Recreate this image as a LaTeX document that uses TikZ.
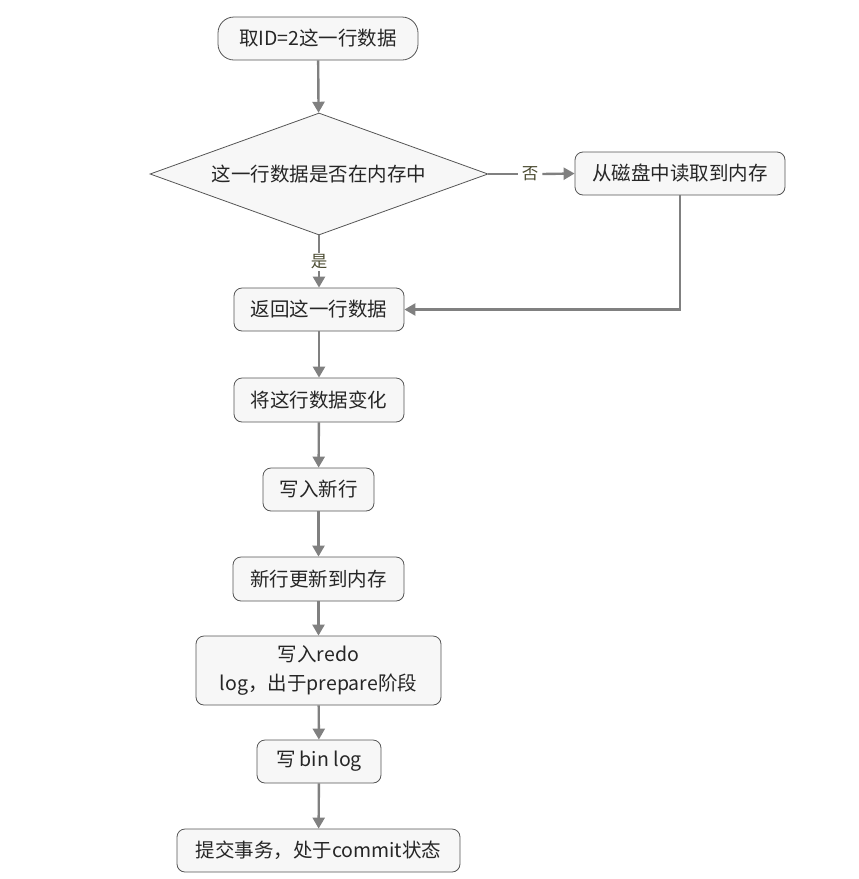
\documentclass[tikz,border=0pt]{standalone}
\usepackage{fontspec}
\setmainfont{Noto Sans CJK SC}
\usetikzlibrary{shapes.geometric,arrows.meta}
\definecolor{boxfill}{HTML}{F7F7F7}
\definecolor{boxline}{HTML}{555555}
\definecolor{arrowc}{HTML}{808080}
\definecolor{labc}{HTML}{4A4A30}
\begin{document}
\begin{tikzpicture}[x=1pt,y=-1pt,
  box/.style={draw=boxline,fill=boxfill,line width=0.8pt,rounded corners=8pt,inner sep=0pt,align=center,font=\fontsize{19.5}{29}\selectfont,text=black!85},
  conn/.style={draw=arrowc,line width=2.4pt,-{Triangle[length=11pt,width=12pt]}},
  plainconn/.style={draw=arrowc,line width=2.4pt},
  lab/.style={font=\fontsize{16.5}{18}\selectfont,text=labc,inner sep=4pt}]
\useasboundingbox (0,0) rectangle (859,879);
\node[box,rounded corners=16pt,minimum width=200pt,minimum height=43pt] (start) at (318,38.5) {取ID=2这一行数据};
\node[diamond,draw=boxline,fill=boxfill,line width=0.8pt,aspect=2.77,minimum width=338pt,minimum height=122pt,inner sep=0pt,font=\fontsize{19.5}{24}\selectfont,text=black!85] (dec) at (319,174) {这一行数据是否在内存中};
\node[box,minimum width=210pt,minimum height=43pt] (disk) at (680,173.5) {从磁盘中读取到内存};
\node[box,minimum width=170pt,minimum height=43pt] (ret) at (319,309.5) {返回这一行数据};
\node[box,minimum width=170pt,minimum height=44pt] (chg) at (319,400) {将这行数据变化};
\node[box,minimum width=111pt,minimum height=43pt] (wr) at (318.5,489.5) {写入新行};
\node[box,minimum width=171pt,minimum height=44pt] (upd) at (318.5,579) {新行更新到内存};
\node[box,minimum width=245pt,minimum height=69pt] (redo) at (318.5,670.5) {写入redo\\log，出于prepare阶段};
\node[box,minimum width=124pt,minimum height=43pt] (bin) at (319,761.5) {写 bin log};
\node[box,minimum width=283pt,minimum height=43pt] (cmt) at (318.5,850.5) {提交事务，处于commit状态};
\node[lab] (no) at (530,174) {否};
\node[lab,inner sep=2pt] (yes) at (319,262) {是};
\coordinate (corner) at (680,309.5);
\draw[conn] (start) -- (dec);
\draw[plainconn] (dec.east) -- (no.west);
\draw[conn] (no.east) -- (disk.west);
\draw[plainconn] (dec.south) -- (yes.north);
\draw[conn] (yes.south) -- (ret.north);
\draw[conn] (disk.south) -- (corner) -- (ret.east);
\draw[conn] (ret) -- (chg);
\draw[conn] (chg) -- (wr);
\draw[conn] (wr) -- (upd);
\draw[conn] (upd) -- (redo);
\draw[conn] (redo) -- (bin);
\draw[conn] (bin) -- (cmt);
\end{tikzpicture}
\end{document}
